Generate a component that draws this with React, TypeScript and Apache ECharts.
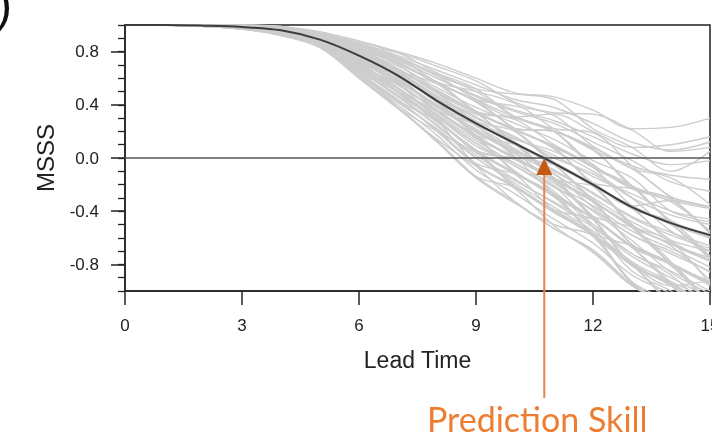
import React, { useEffect, useRef } from "react";
import * as echarts from "echarts";

const leadTimes = [0, 1, 2, 3, 4, 5, 6, 7, 8, 9, 10, 11, 12, 13, 14, 15];
const xTickStep = 3;
const yMajorTicks = [-0.8, -0.4, 0, 0.4, 0.8];
const yMinorStep = 0.1;
const meanMSSS = [1, 1, 0.995, 0.985, 0.96, 0.89, 0.77, 0.62, 0.43, 0.26, 0.11, -0.04, -0.2, -0.37, -0.49, -0.58];
const skillLead = 10.75;
const skillLabel = "Prediction Skill";
const xName = "Lead Time";
const yName = "MSSS";

const ensembleMembers = [
  [1, 1, 1, 1.0, 0.99, 0.95, 0.88, 0.8, 0.71, 0.6, 0.49, 0.46, 0.36, 0.22, 0.23, 0.3],
  [1, 1, 1, 0.99, 0.98, 0.93, 0.85, 0.79, 0.69, 0.58, 0.42, 0.34, 0.33, 0.21, 0.05, 0.08],
  [1, 1, 1, 0.99, 0.98, 0.94, 0.85, 0.76, 0.63, 0.52, 0.48, 0.44, 0.22, 0.08, -0.1, 0.05],
  [1, 1, 1, 0.99, 0.98, 0.92, 0.84, 0.75, 0.57, 0.44, 0.39, 0.32, 0.09, -0.06, -0.13, -0.16],
  [1, 1, 0.99, 0.99, 0.97, 0.93, 0.85, 0.75, 0.62, 0.44, 0.31, 0.22, 0.19, -0.06, -0.29, -0.37],
  [1, 1, 1, 1.0, 0.98, 0.93, 0.82, 0.71, 0.56, 0.35, 0.22, 0.2, 0.06, -0.21, -0.47, -0.57],
  [1, 1, 0.99, 0.99, 0.97, 0.92, 0.83, 0.7, 0.51, 0.35, 0.3, 0.2, -0.05, -0.23, -0.33, -0.55],
  [1, 1, 0.99, 0.99, 0.97, 0.92, 0.82, 0.72, 0.57, 0.5, 0.41, 0.22, 0.06, -0.08, -0.3, -0.56],
  [1, 1, 0.99, 0.99, 0.97, 0.9, 0.8, 0.67, 0.49, 0.34, 0.29, 0.1, -0.07, -0.36, -0.5, -0.74],
  [1, 1, 0.99, 0.99, 0.96, 0.91, 0.79, 0.63, 0.44, 0.33, 0.22, 0.07, -0.19, -0.38, -0.62, -0.78],
  [1, 1, 0.99, 0.98, 0.96, 0.9, 0.8, 0.66, 0.44, 0.27, 0.1, -0.03, -0.21, -0.5, -0.66, -0.92],
  [1, 1, 0.99, 0.99, 0.96, 0.89, 0.77, 0.61, 0.43, 0.25, 0.12, -0.15, -0.33, -0.51, -0.65, -0.75],
  [1, 1, 0.99, 0.98, 0.96, 0.89, 0.74, 0.62, 0.42, 0.27, 0.2, -0.03, -0.21, -0.36, -0.5, -0.59],
  [1, 1, 0.99, 0.98, 0.95, 0.87, 0.77, 0.61, 0.36, 0.17, 0.01, -0.05, -0.19, -0.38, -0.48, -0.74],
  [1, 1, 0.99, 0.98, 0.95, 0.89, 0.76, 0.62, 0.35, 0.15, -0.1, -0.29, -0.44, -0.52, -0.63, -0.95],
  [1, 1, 0.99, 0.98, 0.95, 0.88, 0.73, 0.55, 0.36, 0.16, -0.01, -0.17, -0.44, -0.67, -0.8, -0.93],
  [1, 1, 0.99, 0.98, 0.96, 0.87, 0.72, 0.5, 0.29, 0.06, -0.01, -0.15, -0.33, -0.52, -0.78, -1.1],
  [1, 1, 0.99, 0.98, 0.95, 0.87, 0.73, 0.49, 0.28, 0.05, -0.12, -0.27, -0.58, -0.8, -0.96, -0.92],
  [1, 1, 0.99, 0.98, 0.94, 0.86, 0.69, 0.5, 0.27, 0.06, -0.21, -0.41, -0.57, -0.81, -0.94, -1.12],
  [1, 1, 0.99, 0.98, 0.94, 0.86, 0.64, 0.44, 0.2, -0.04, -0.12, -0.29, -0.57, -0.8, -1.08, -1.3],
  [1, 1, 0.99, 0.97, 0.93, 0.84, 0.68, 0.49, 0.28, 0.05, -0.22, -0.39, -0.58, -0.94, -1.1, -1.28],
  [1, 1, 0.99, 0.98, 0.93, 0.85, 0.64, 0.43, 0.21, -0.05, -0.23, -0.51, -0.71, -0.96, -1.1, -1.3],
  [1, 1, 0.99, 0.97, 0.93, 0.83, 0.6, 0.37, 0.13, -0.14, -0.33, -0.53, -0.69, -0.95, -1.12, -1.3],
  [1, 1, 0.99, 0.97, 0.92, 0.83, 0.61, 0.38, 0.14, -0.06, -0.21, -0.4, -0.57, -0.93, -1.08, -1.3],
  [1, 1, 0.99, 0.97, 0.93, 0.84, 0.65, 0.38, 0.12, -0.15, -0.34, -0.5, -0.58, -0.79, -0.96, -1.1],
  [1, 1, 0.99, 0.97, 0.93, 0.84, 0.6, 0.38, 0.2, 0.04, -0.12, -0.4, -0.59, -0.94, -1.11, -1.28],
  [1, 1, 0.99, 0.99, 0.97, 0.89, 0.77, 0.62, 0.42, 0.17, 0.0, -0.17, -0.44, -0.67, -0.79, -1.1],
  [1, 1, 0.99, 0.99, 0.97, 0.91, 0.8, 0.63, 0.42, 0.25, 0.01, -0.16, -0.46, -0.8, -0.94, -1.13],
  [1, 1, 1, 0.99, 0.97, 0.92, 0.8, 0.66, 0.44, 0.25, 0.11, -0.15, -0.32, -0.65, -0.8, -1.12],
  [1, 1, 0.99, 0.98, 0.95, 0.89, 0.77, 0.66, 0.5, 0.35, 0.22, 0.2, 0.08, -0.08, -0.15, -0.35],
  [1, 1, 0.99, 0.98, 0.94, 0.87, 0.73, 0.61, 0.43, 0.26, 0.1, -0.05, -0.19, -0.23, -0.3, -0.37],
  [1, 1, 0.99, 0.98, 0.96, 0.89, 0.76, 0.56, 0.35, 0.16, -0.1, -0.28, -0.46, -0.81, -0.95, -1.28],
  [1, 1, 0.99, 0.99, 0.98, 0.93, 0.85, 0.71, 0.56, 0.35, 0.2, -0.04, -0.2, -0.52, -0.79, -0.95],
  [1, 1, 0.99, 0.99, 0.97, 0.92, 0.82, 0.67, 0.49, 0.34, 0.12, -0.05, -0.21, -0.5, -0.8, -1.1],
  [1, 1, 0.99, 0.98, 0.95, 0.86, 0.69, 0.56, 0.36, 0.25, 0.1, -0.16, -0.33, -0.65, -0.81, -1.1],
  [1, 1, 0.99, 0.97, 0.94, 0.86, 0.68, 0.5, 0.35, 0.15, 0.0, -0.17, -0.45, -0.67, -0.95, -1.13],
  [1, 1, 0.99, 0.99, 0.97, 0.9, 0.82, 0.71, 0.57, 0.35, 0.21, 0.08, -0.2, -0.37, -0.64, -0.77],
  [1, 1, 1, 1.0, 0.99, 0.93, 0.85, 0.72, 0.56, 0.43, 0.22, 0.09, -0.07, -0.21, -0.48, -0.6],
  [1, 1, 0.99, 0.98, 0.97, 0.9, 0.77, 0.62, 0.35, 0.16, -0.11, -0.29, -0.57, -0.8, -1.1, -1.3],
  [1, 1, 0.99, 0.98, 0.94, 0.84, 0.64, 0.5, 0.28, -0.05, -0.22, -0.4, -0.57, -0.66, -0.79, -0.94],
  [1, 1, 0.99, 0.99, 0.97, 0.9, 0.8, 0.67, 0.5, 0.34, 0.21, 0.09, -0.06, -0.22, -0.32, -0.38],
  [1, 1, 0.99, 0.98, 0.96, 0.89, 0.78, 0.62, 0.44, 0.26, 0.12, -0.05, -0.19, -0.38, -0.48, -0.6],
  [1, 1, 0.99, 0.98, 0.95, 0.87, 0.73, 0.61, 0.43, 0.25, 0.01, -0.16, -0.33, -0.65, -0.79, -0.96],
  [1, 1, 0.99, 0.99, 0.97, 0.92, 0.8, 0.67, 0.49, 0.27, 0.1, -0.05, -0.31, -0.52, -0.64, -0.77],
  [1, 1, 1, 0.99, 0.98, 0.93, 0.83, 0.71, 0.57, 0.42, 0.22, 0.08, -0.06, -0.23, -0.31, -0.56],
  [1, 1, 0.99, 0.98, 0.94, 0.86, 0.69, 0.55, 0.36, 0.17, 0.1, -0.04, -0.21, -0.36, -0.5, -0.75],
  [1, 1, 0.99, 0.97, 0.93, 0.86, 0.68, 0.5, 0.35, 0.15, 0.0, -0.27, -0.46, -0.8, -0.96, -1.28],
  [1, 1, 0.99, 0.99, 0.97, 0.92, 0.82, 0.75, 0.62, 0.5, 0.31, 0.2, -0.07, -0.22, -0.49, -0.76],
  [1, 1, 0.99, 0.98, 0.96, 0.87, 0.73, 0.56, 0.29, 0.06, -0.11, -0.27, -0.46, -0.8, -0.95, -1.12],
  [1, 1, 0.99, 0.98, 0.96, 0.89, 0.8, 0.66, 0.56, 0.43, 0.31, 0.33, 0.2, 0.08, 0.1, 0.16],
  [1, 1, 0.99, 0.98, 0.94, 0.84, 0.64, 0.38, 0.13, -0.14, -0.22, -0.39, -0.46, -0.66, -0.8, -0.95],
  [1, 1, 0.99, 0.99, 0.97, 0.9, 0.77, 0.62, 0.43, 0.17, 0.0, -0.15, -0.44, -0.67, -0.94, -1.27],
  [1, 1, 1, 0.99, 0.98, 0.92, 0.82, 0.67, 0.51, 0.34, 0.11, -0.05, -0.32, -0.51, -0.79, -0.94],
  [1, 1, 0.99, 0.98, 0.94, 0.86, 0.64, 0.43, 0.28, 0.05, -0.01, -0.16, -0.21, -0.36, -0.32, -0.37],
  [1, 1, 0.99, 0.97, 0.92, 0.84, 0.63, 0.42, 0.21, -0.06, -0.33, -0.53, -0.7, -0.96, -1.12, -1.3],
  [1, 1, 1, 1.0, 0.98, 0.94, 0.87, 0.79, 0.64, 0.52, 0.31, 0.2, 0.07, -0.21, -0.31, -0.57],
  [1, 1, 0.99, 0.99, 0.97, 0.91, 0.81, 0.69, 0.53, 0.38, 0.26, 0.14, -0.02, -0.15, -0.4, -0.48],
  [1, 1, 0.99, 0.98, 0.96, 0.88, 0.75, 0.59, 0.4, 0.21, 0.05, -0.1, -0.26, -0.45, -0.58, -0.68],
  [1, 1, 0.99, 0.98, 0.95, 0.87, 0.71, 0.53, 0.32, 0.11, -0.06, -0.22, -0.39, -0.58, -0.72, -0.85],
  [1, 1, 0.99, 0.98, 0.94, 0.85, 0.66, 0.46, 0.24, 0.02, -0.16, -0.34, -0.52, -0.74, -0.9, -1.05],
  [1, 1, 0.99, 0.97, 0.93, 0.84, 0.62, 0.4, 0.17, -0.09, -0.27, -0.46, -0.64, -0.88, -1.02, -1.2],
  [1, 1, 0.99, 0.99, 0.97, 0.92, 0.83, 0.73, 0.6, 0.46, 0.35, 0.26, 0.12, -0.02, -0.18, -0.25],
  [1, 1, 1, 0.99, 0.98, 0.93, 0.84, 0.74, 0.6, 0.47, 0.36, 0.28, 0.16, 0.03, -0.05, -0.02],
  [1, 1, 0.99, 0.99, 0.97, 0.91, 0.79, 0.64, 0.46, 0.3, 0.16, 0.0, -0.12, -0.3, -0.43, -0.5],
  [1, 1, 0.99, 0.98, 0.96, 0.88, 0.76, 0.6, 0.38, 0.22, 0.06, -0.09, -0.27, -0.44, -0.56, -0.66],
  [1, 1, 0.99, 0.98, 0.95, 0.87, 0.72, 0.58, 0.38, 0.2, 0.03, -0.12, -0.37, -0.58, -0.7, -0.86],
  [1, 1, 0.99, 0.98, 0.95, 0.87, 0.7, 0.52, 0.31, 0.09, -0.04, -0.21, -0.4, -0.62, -0.86, -1.02],
  [1, 1, 0.99, 0.98, 0.94, 0.85, 0.67, 0.47, 0.25, 0.0, -0.17, -0.33, -0.5, -0.72, -0.88, -1.16],
  [1, 1, 0.99, 0.98, 0.94, 0.85, 0.66, 0.47, 0.3, 0.11, -0.06, -0.25, -0.52, -0.85, -1.0, -1.18],
  [1, 1, 0.99, 0.98, 0.96, 0.9, 0.79, 0.65, 0.47, 0.31, 0.15, 0.02, -0.14, -0.27, -0.4, -0.46],
  [1, 1, 0.99, 0.99, 0.97, 0.9, 0.78, 0.64, 0.45, 0.28, 0.14, 0.05, -0.1, -0.3, -0.55, -0.7],
  [1, 1, 0.99, 0.98, 0.95, 0.88, 0.74, 0.58, 0.39, 0.19, 0.04, -0.19, -0.36, -0.55, -0.68, -0.82],
  [1, 1, 0.99, 0.98, 0.95, 0.86, 0.71, 0.52, 0.33, 0.13, -0.04, -0.21, -0.5, -0.72, -0.85, -1.0],
  [1, 1, 1, 0.99, 0.98, 0.94, 0.86, 0.77, 0.66, 0.55, 0.44, 0.38, 0.26, 0.12, 0.06, 0.12],
  [1, 1, 0.99, 0.98, 0.96, 0.89, 0.75, 0.57, 0.4, 0.24, 0.07, -0.12, -0.3, -0.48, -0.62, -0.7],
  [1, 1, 0.99, 0.97, 0.93, 0.84, 0.63, 0.42, 0.22, 0.0, -0.19, -0.37, -0.55, -0.78, -0.93, -1.06],
];

const FONT = "Liberation Sans, Arial, Helvetica, sans-serif";
const INK = "#222222";

export default function App() {
  const ref = useRef<HTMLDivElement>(null);

  useEffect(() => {
    if (!ref.current) return;
    const chart = echarts.init(ref.current, undefined, { renderer: "svg" });
    const toPairs = (vals: number[]) => leadTimes.map((t, i) => [t, vals[i]]);

    const memberSeries = ensembleMembers.map((m, k) => ({
      name: "member" + k,
      type: "line",
      data: toPairs(m),
      showSymbol: false,
      smooth: 0.35,
      silent: true,
      z: 1,
      lineStyle: { color: "#cdcdcd", width: 1.4 },
    }));

    chart.setOption({
      animation: false,
      grid: {
        left: 125,
        right: 2,
        top: 25,
        bottom: 150,
        show: true,
        borderColor: INK,
        borderWidth: 1.5,
        backgroundColor: "transparent",
        outerBoundsMode: "none",
        containLabel: false,
      },
      xAxis: {
        type: "value",
        min: leadTimes[0],
        max: leadTimes[leadTimes.length - 1],
        interval: xTickStep,
        name: xName,
        nameLocation: "middle",
        nameGap: 57,
        nameTextStyle: { fontFamily: FONT, fontSize: 23, color: INK },
        axisLine: { show: true, onZero: false, lineStyle: { color: INK, width: 1.5 } },
        axisTick: { show: true, length: 14, lineStyle: { color: INK, width: 1.5 } },
        axisLabel: { margin: 26, fontFamily: FONT, fontSize: 17, color: INK, hideOverlap: false },
        splitLine: { show: false },
      },
      yAxis: [
        {
          type: "value",
          position: "left",
          min: -1,
          max: 1,
          name: yName,
          nameLocation: "middle",
          nameRotate: 90,
          nameGap: 68,
          nameTextStyle: { fontFamily: FONT, fontSize: 24, color: INK },
          axisLine: { show: true, onZero: false, lineStyle: { color: INK, width: 1.5 } },
          axisTick: {
            show: true,
            length: 14,
            customValues: yMajorTicks,
            lineStyle: { color: INK, width: 1.5 },
          },
          axisLabel: {
            margin: 26,
            customValues: yMajorTicks,
            fontFamily: FONT,
            fontSize: 17,
            color: INK,
            formatter: (v: number) => v.toFixed(1),
          },
          splitLine: { show: false },
        },
        {
          type: "value",
          position: "left",
          min: -1,
          max: 1,
          interval: yMinorStep,
          axisLine: { show: false, onZero: false },
          axisTick: { show: true, length: 7, lineStyle: { color: INK, width: 1.3 } },
          axisLabel: { show: false },
          splitLine: { show: false },
        },
      ],
      series: [
        ...memberSeries,
        {
          name: "mean",
          type: "line",
          data: toPairs(meanMSSS),
          showSymbol: false,
          smooth: 0.35,
          silent: true,
          z: 5,
          lineStyle: { color: "#3c3c3c", width: 2 },
          markLine: {
            silent: true,
            symbol: "none",
            label: { show: false },
            lineStyle: { color: "#555555", width: 1.5, type: "solid" },
            data: [{ yAxis: 0 }],
          },
        },
      ],
    });

    const p = chart.convertToPixel({ xAxisIndex: 0, yAxisIndex: 0 }, [skillLead, 0]) as number[];
    const px = p[0];
    const py = p[1];
    chart.setOption({
      graphic: [
        {
          type: "text",
          left: -4,
          top: -20,
          style: { text: ")", font: "normal 48px " + FONT, fill: "#111" },
          silent: true,
        },
        {
          type: "line",
          shape: { x1: px, y1: py + 16, x2: px, y2: 398 },
          style: { stroke: "#E2864A", lineWidth: 2 },
          silent: true,
          z: 10,
        },
        {
          type: "polygon",
          shape: { points: [[px - 8, py + 17], [px + 8, py + 17], [px, py]] },
          style: { fill: "#C55A11" },
          silent: true,
          z: 11,
        },
        {
          type: "text",
          x: px - 7,
          y: 418,
          style: {
            text: skillLabel,
            font: "normal 34px Lato, 'Open Sans', sans-serif",
            fill: "#ED7D31",
            align: "center",
            verticalAlign: "middle",
          },
          silent: true,
          z: 11,
        },
      ],
    });

    return () => chart.dispose();
  }, []);

  return <div ref={ref} style={{ position: "fixed", left: 0, top: 0, width: 712, height: 441 }} />;
}
